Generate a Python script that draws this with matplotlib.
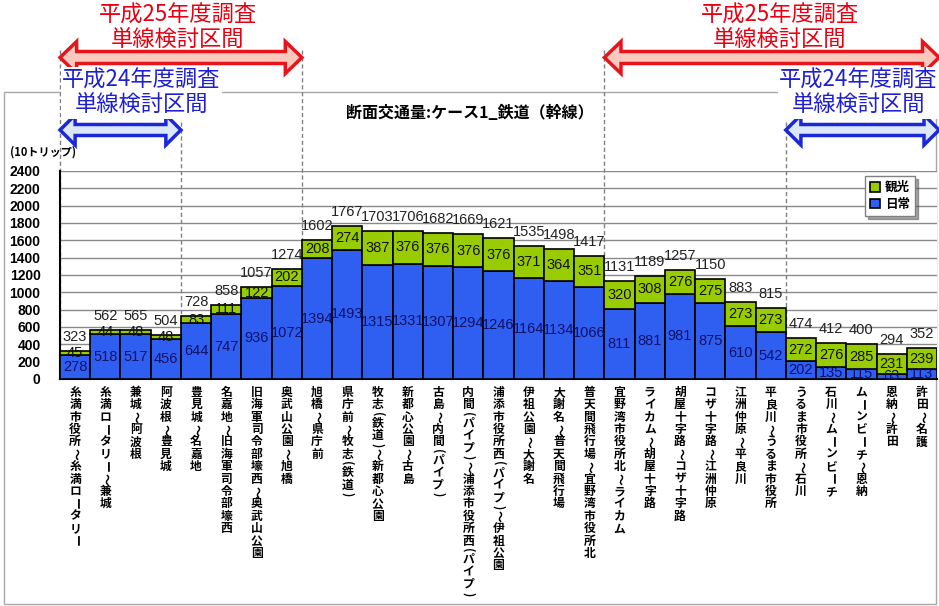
import numpy as np
import matplotlib
matplotlib.use("Agg")
import matplotlib.pyplot as plt
import matplotlib.transforms as mtransforms
from matplotlib.patches import Polygon, Rectangle

plt.rcParams['font.family'] = ['Noto Sans CJK JP', 'DejaVu Sans']

# 区間名 / 日常 / 観光 / 合計 (10トリップ)
sections = [
    "糸満市役所～糸満ロータリー", "糸満ロータリー～兼城", "兼城～阿波根", "阿波根～豊見城",
    "豊見城～名嘉地", "名嘉地～旧海軍司令部壕西", "旧海軍司令部壕西～奥武山公園",
    "奥武山公園～旭橋", "旭橋～県庁前", "県庁前～牧志(鉄道)", "牧志(鉄道)～新都心公園",
    "新都心公園～古島", "古島～内間(パイプ)", "内間(パイプ)～浦添市役所西(パイプ)",
    "浦添市役所西(パイプ)～伊祖公園", "伊祖公園～大謝名", "大謝名～普天間飛行場",
    "普天間飛行場～宜野湾市役所北", "宜野湾市役所北～ライカム", "ライカム～胡屋十字路",
    "胡屋十字路～コザ十字路", "コザ十字路～江洲仲原", "江洲仲原～平良川",
    "平良川～うるま市役所", "うるま市役所～石川", "石川～ムーンビーチ",
    "ムーンビーチ～恩納", "恩納～許田", "許田～名護",
]
daily = [278, 518, 517, 456, 644, 747, 936, 1072, 1394, 1493, 1315, 1331, 1307, 1294,
         1246, 1164, 1134, 1066, 811, 881, 981, 875, 610, 542, 202, 135, 115, 63, 113]
tourism = [45, 44, 48, 48, 83, 111, 122, 202, 208, 274, 387, 376, 376, 376,
           376, 371, 364, 351, 320, 308, 276, 275, 273, 273, 272, 276, 285, 231, 239]
totals = [323, 562, 565, 504, 728, 858, 1057, 1274, 1602, 1767, 1703, 1706, 1682, 1669,
          1621, 1535, 1498, 1417, 1131, 1189, 1257, 1150, 883, 815, 474, 412, 400, 294, 352]

# 単線検討区間 (区間の境界インデックス)
h25_ranges = [(0, 8), (18, 29)]
h24_ranges = [(0, 4), (24, 29)]

BLUE = '#2f5ff0'
GREEN = '#99cc00'
W, H = 939, 606
NUM_FAMILY = ['Liberation Sans Narrow', 'Liberation Sans']

fig = plt.figure(figsize=(W / 100, H / 100), dpi=100)
ax = fig.add_axes([60 / W, 1 - 379 / H, 877 / W, 208 / H])
x = np.arange(len(sections))

b1 = ax.bar(x, daily, width=1.0, color=BLUE, edgecolor='black', lw=1.2, label='日常', zorder=3)
b2 = ax.bar(x, tourism, bottom=daily, width=1.0, color=GREEN, edgecolor='black', lw=1.2,
            label='観光', zorder=3)

ax.set_xlim(-0.5, len(sections) - 0.5)
ax.set_ylim(0, 2400)
ax.set_yticks(range(0, 2401, 200))
ax.set_xticks([])
ax.yaxis.grid(True, color='#8a8a8a', lw=1)
ax.set_axisbelow(True)
ax.tick_params(axis='y', length=0, pad=14)
for lab in ax.get_yticklabels():
    lab.set_fontweight('bold')
    lab.set_fontsize(10)
    lab.set_family('Liberation Sans')
for s in ['top', 'right']:
    ax.spines[s].set_visible(False)
for s in ['left', 'bottom']:
    ax.spines[s].set_linewidth(1.5)

num_font = dict(family=NUM_FAMILY, fontsize=10.5, ha='center', va='center')
for i in range(len(sections)):
    ax.text(i, daily[i] / 2, str(daily[i]), color='#10106a', zorder=5, **num_font)
    ax.text(i, daily[i] + tourism[i] / 2, str(tourism[i]), color='#111111', zorder=5, **num_font)
    ax.annotate(str(totals[i]), (i, daily[i] + tourism[i]), xytext=(0, 7),
                textcoords='offset pixels', ha='center', va='bottom',
                family=NUM_FAMILY, fontsize=10.5, color='#222222')

# 縦書きの区間名
rot_chars = set('ー～()')
half_chars = set('()')
for i, name in enumerate(sections):
    off = -7
    for ch in name:
        step = 6.2 if ch in half_chars else 12.4
        ax.annotate(ch, xy=(i, 0), xytext=(0, off - step / 2), textcoords='offset pixels',
                    ha='center', va='center', rotation=-90 if ch in rot_chars else 0,
                    fontsize=8.5, fontweight='bold', annotation_clip=False)
        off -= step

fig.text(10 / W, 1 - 152 / H, '(10トリップ)', fontsize=8, fontweight='bold',
         ha='left', va='center')
fig.text(470 / W, 1 - 113 / H, '断面交通量:ケース1_鉄道（幹線）', fontsize=11.5,
         fontweight='bold', ha='center', va='center')

leg_h = [b2, b1]
ax.legend(leg_h, ['観光', '日常'], loc='upper right', bbox_to_anchor=(0.975, 0.975),
          borderaxespad=0, shadow=True, fancybox=False, framealpha=1, edgecolor='#808080',
          prop=dict(weight='bold', size=9), handlelength=0.8, handleheight=0.8,
          handletextpad=0.4, borderpad=0.4, labelspacing=0.3)

# 外枠
fig.add_artist(Rectangle((4 / W, 1 - 604 / H), 932 / W, 512 / H, transform=fig.transFigure,
                         fill=False, edgecolor='#a8a8a8', lw=1, zorder=0))

blend = mtransforms.blended_transform_factory(ax.transData, fig.transFigure)


def py(p):
    return 1 - p / H


def darrow(x0, x1, yc, s, h, L, ec, fc):
    pts = [(x0, yc), (x0 + L, yc - h), (x0 + L, yc - s), (x1 - L, yc - s), (x1 - L, yc - h),
           (x1, yc), (x1 - L, yc + h), (x1 - L, yc + s), (x0 + L, yc + s), (x0 + L, yc + h)]
    pts = [(a, py(b)) for a, b in pts]
    ax.add_patch(Polygon(pts, closed=True, transform=blend, clip_on=False,
                         facecolor=fc, edgecolor=ec, lw=2.5, zorder=6))


def vline(xb, ytop):
    ax.plot([xb, xb], [py(ytop), py(379)], transform=blend, clip_on=False,
            color='#808080', lw=1, ls=(0, (3, 2)), zorder=1)


for a, b in h25_ranges:
    vline(a - 0.5, 50)
    if b < len(sections):
        vline(b - 0.5, 50)
for a, b in h24_ranges:
    if a > 0:
        vline(a - 0.5, 122)
    if b < len(sections):
        vline(b - 0.5, 122)

for a, b in h25_ranges:
    x1 = b - 0.5 if b < len(sections) else b - 0.43
    darrow(a - 0.5, x1, 57.5, 6, 16, 0.55, '#e8141c', '#f9c9bd')
for a, b in h24_ranges:
    x1 = b - 0.5 if b < len(sections) else b - 0.43
    darrow(a - 0.5, x1, 130, 5.5, 15, 0.5, '#1a28d8', '#dce8f7')

red_x = [3.4, 23.3]
blue_x = [2.18, 25.9]
for xc in red_x:
    ax.text(xc, py(28), '平成25年度調査\n単線検討区間', transform=blend, ha='center',
            va='center', fontsize=16, color='#e60012', linespacing=1.15, clip_on=False)
for xc in blue_x:
    ax.text(xc, py(93), '平成24年度調査\n単線検討区間', transform=blend, ha='center',
            va='center', fontsize=16, color='#1f1fd0', linespacing=1.15, clip_on=False,
            bbox=dict(facecolor='white', edgecolor='none', pad=1), zorder=7)

fig.savefig('out.png', dpi=100)
